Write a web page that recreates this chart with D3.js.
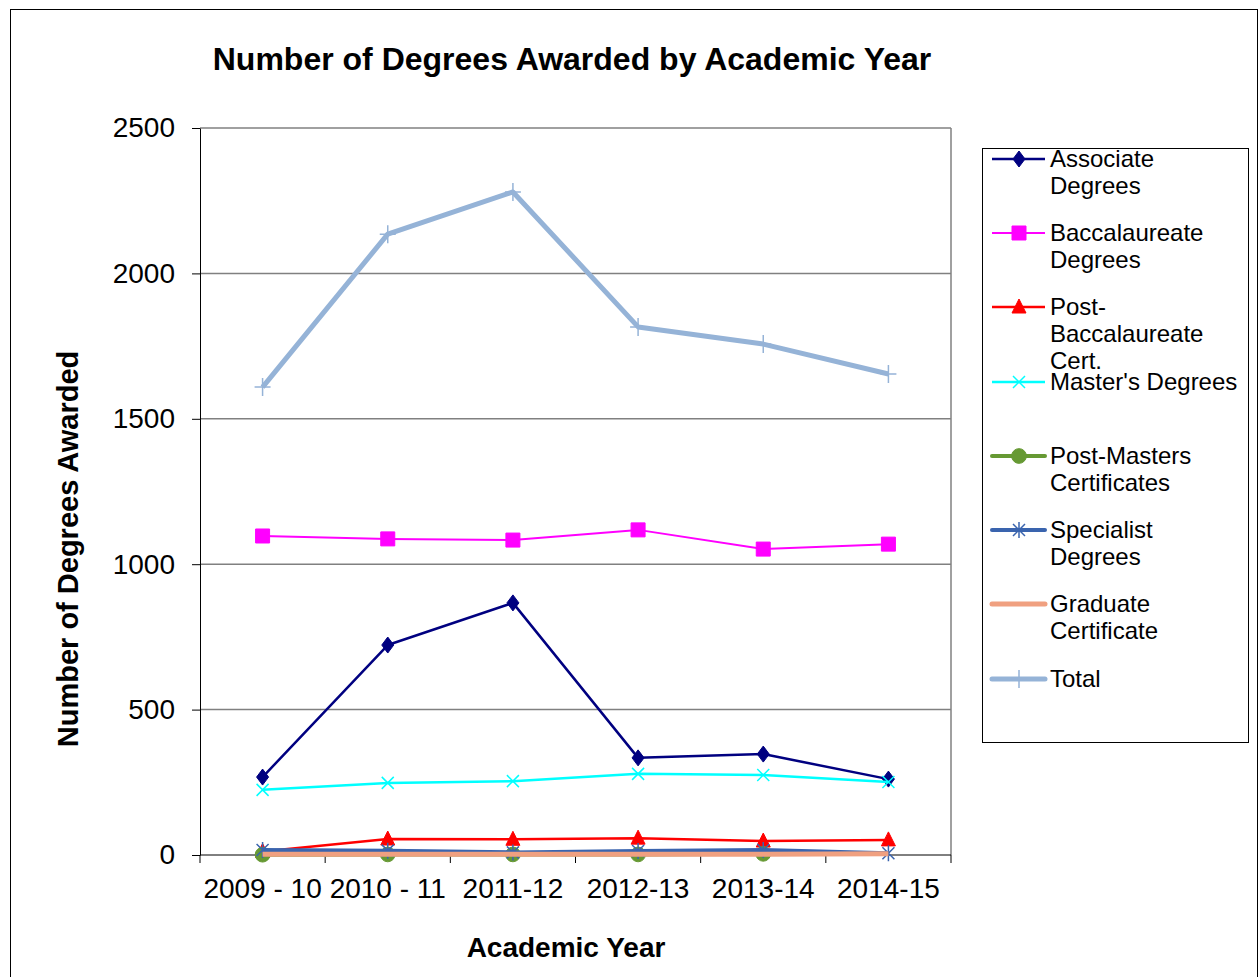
<!DOCTYPE html>
<html>
<head>
<meta charset="utf-8">
<script src="https://cdn.jsdelivr.net/npm/d3@7"></script>
<style>
  body { margin: 0; background: #fff; }
  text { font-family: Arial, "Liberation Sans", sans-serif; fill: #000; }
</style>
</head>
<body>
<svg width="1259" height="977"></svg>
<script>
// data
let years = ["2009 - 10", "2010 - 11", "2011-12", "2012-13", "2013-14", "2014-15"];
let yTicks = [0, 500, 1000, 1500, 2000, 2500];

let associate     = [268, 722, 867, 334, 347, 261];
let baccalaureate = [1097, 1087, 1083, 1118, 1052, 1069];
let postBacc      = [12, 55, 54, 58, 48, 52];
let masters       = [224, 248, 254, 279, 275, 251];
let postMasters   = [1, 2, 2, 2, 4, null];
let specialist    = [17, 15, 9, 14, 17, 6];
let gradCert      = [3, 3, 3, 3, 3, 4];
let total         = [1609, 2135, 2280, 1816, 1757, 1654];

// marker shapes
let shapes = {
  diamond: "M0,-8L6,0L0,8L-6,0Z",
  square: "M-7,-7H7V7H-7Z",
  triangle: "M0,-8L7,6H-7Z",
  x: "M-6,-6L6,6M-6,6L6,-6",
  circle: d3.symbol().type(d3.symbolCircle).size(170)(),
  star: "M-6,-6L6,6M-6,6L6,-6M0,-8V8",
  plus: "M-8,0H8M0,-9V9",
  none: ""
};

let series = [
  { name: ["Associate", "Degrees"], values: associate, color: "#000080", width: 2.5, shape: "diamond", filled: true },
  { name: ["Baccalaureate", "Degrees"], values: baccalaureate, color: "#ff00ff", width: 2, shape: "square", filled: true },
  { name: ["Post-", "Baccalaureate", "Cert."], values: postBacc, color: "#ff0000", width: 2.5, shape: "triangle", filled: true },
  { name: ["Master's Degrees"], values: masters, color: "#00ffff", width: 2.5, shape: "x", filled: false },
  { name: ["Post-Masters", "Certificates"], values: postMasters, color: "#669933", width: 4, shape: "circle", filled: true },
  { name: ["Specialist", "Degrees"], values: specialist, color: "#3a64ae", width: 4, shape: "star", filled: false },
  { name: ["Graduate", "Certificate"], values: gradCert, color: "#f0a080", width: 5, shape: "none", filled: false },
  { name: ["Total"], values: total, color: "#95b3d7", width: 5, shape: "plus", filled: false }
];

let svg = d3.select("svg");

// outer frame
svg.append("rect")
    .attr("x", 10.5).attr("y", 9.5)
    .attr("width", 1247).attr("height", 990)
    .attr("fill", "none")
    .attr("stroke", "#000")
    .attr("stroke-width", 1);

let plotLeft = 200, plotRight = 951, plotTop = 128, plotBottom = 855;

let x = d3.scaleBand().domain(years).range([plotLeft, plotRight]).padding(0);
let y = d3.scaleLinear().domain([0, 2500]).range([plotBottom, plotTop]);
let cx = function(d) { return x(d) + x.bandwidth() / 2; };

// gridlines
svg.append("g")
  .selectAll("line")
  .data(yTicks.filter(function(d) { return d > 0; }))
  .enter().append("line")
    .attr("x1", plotLeft).attr("x2", plotRight)
    .attr("y1", function(d) { return y(d); })
    .attr("y2", function(d) { return y(d); })
    .attr("stroke", "#808080")
    .attr("stroke-width", 1.5);

// plot area right border
svg.append("line")
    .attr("x1", plotRight).attr("x2", plotRight)
    .attr("y1", plotTop).attr("y2", plotBottom)
    .attr("stroke", "#808080")
    .attr("stroke-width", 1.5);

// y axis
let yAxis = svg.append("g")
    .attr("transform", "translate(" + plotLeft + ",0)")
    .call(d3.axisLeft(y).tickValues(yTicks).tickSize(8).tickSizeOuter(0).tickPadding(17).tickFormat(d3.format("d")));
yAxis.selectAll("text").style("font-size", "28px").style("font-family", "Arial, 'Liberation Sans', sans-serif");
yAxis.selectAll("path, line").attr("stroke", "#000");

// x axis with ticks at category boundaries
let xAxis = svg.append("g")
    .attr("transform", "translate(0," + plotBottom + ")");
xAxis.append("line")
    .attr("x1", plotLeft).attr("x2", plotRight)
    .attr("stroke", "#000");
xAxis.selectAll(".tk")
  .data(years.concat(["end"]))
  .enter().append("line")
    .attr("class", "tk")
    .attr("x1", function(d, i) { return plotLeft + i * x.bandwidth(); })
    .attr("x2", function(d, i) { return plotLeft + i * x.bandwidth(); })
    .attr("y1", 0).attr("y2", 8)
    .attr("stroke", "#000");
xAxis.selectAll(".lbl")
  .data(years)
  .enter().append("text")
    .attr("class", "lbl")
    .attr("x", cx)
    .attr("y", 43)
    .attr("text-anchor", "middle")
    .style("font-size", "28px")
    .text(function(d) { return d; });

// lines
let line = d3.line()
    .defined(function(d) { return d.v != null; })
    .x(function(d) { return cx(d.year); })
    .y(function(d) { return y(d.v); });

series.forEach(function(s) {
  let pts = years.map(function(yr, i) { return { year: yr, v: s.values[i] }; });
  svg.append("path")
      .datum(pts)
      .attr("d", line)
      .attr("fill", "none")
      .attr("stroke", s.color)
      .attr("stroke-width", s.width)
      .attr("stroke-linejoin", "round");
  if (s.shape != "none") {
    svg.append("g")
      .selectAll("path")
      .data(pts.filter(function(d) { return d.v != null; }))
      .enter().append("path")
        .attr("d", shapes[s.shape])
        .attr("transform", function(d) { return "translate(" + cx(d.year) + "," + y(d.v) + ")"; })
        .attr("fill", s.filled ? s.color : "none")
        .attr("stroke", s.color)
        .attr("stroke-width", s.filled ? 1 : 1.5);
  }
});

// title
svg.append("text")
    .attr("x", 572).attr("y", 70)
    .attr("text-anchor", "middle")
    .style("font-size", "32px")
    .style("font-weight", "bold")
    .text("Number of Degrees Awarded by Academic Year");

svg.append("text")
    .attr("x", 566).attr("y", 957)
    .attr("text-anchor", "middle")
    .style("font-size", "28px")
    .style("font-weight", "bold")
    .text("Academic Year");

svg.append("text")
    .attr("transform", "translate(78,549) rotate(-90)")
    .attr("text-anchor", "middle")
    .style("font-size", "29px")
    .style("font-weight", "bold")
    .text("Number of Degrees Awarded");

// legend
let legend = svg.append("g");
legend.append("rect")
    .attr("x", 982.5).attr("y", 148.5)
    .attr("width", 266).attr("height", 594)
    .attr("fill", "#fff")
    .attr("stroke", "#000");

let rowY = [159, 233, 307, 382, 456, 530, 604, 679];

series.forEach(function(s, i) {
  let g = legend.append("g").attr("transform", "translate(0," + rowY[i] + ")");
  g.append("line")
      .attr("x1", 992).attr("x2", 1045)
      .attr("stroke", s.color)
      .attr("stroke-width", s.width)
      .attr("stroke-linecap", s.width > 3 ? "round" : "butt");
  if (s.shape != "none") {
    g.append("path")
        .attr("d", shapes[s.shape])
        .attr("transform", "translate(1019,0)")
        .attr("fill", s.filled ? s.color : "none")
        .attr("stroke", s.color)
        .attr("stroke-width", s.filled ? 1 : 1.5);
  }
  let t = g.append("text")
      .attr("x", 1050)
      .attr("y", 8)
      .style("font-size", "24px");
  s.name.forEach(function(n, j) {
    t.append("tspan")
        .attr("x", 1050)
        .attr("dy", j == 0 ? 0 : 27)
        .text(n);
  });
});
</script>
</body>
</html>
